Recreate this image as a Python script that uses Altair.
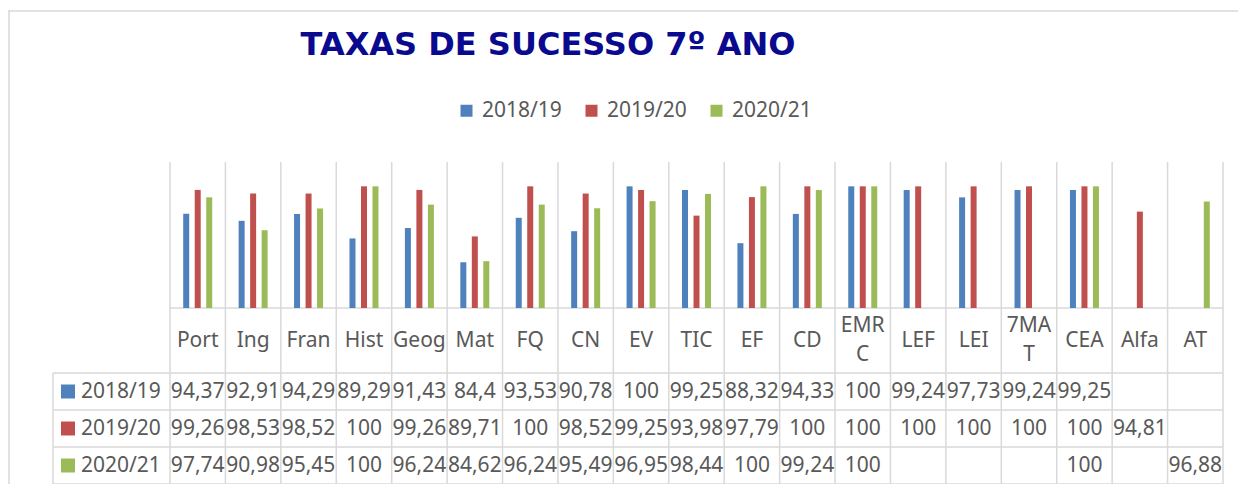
import altair as alt
import pandas as pd

# ---------------- data ----------------
categories = ["Port", "Ing", "Fran", "Hist", "Geog", "Mat", "FQ", "CN", "EV", "TIC",
              "EF", "CD", "EMRC", "LEF", "LEI", "7MAT", "CEA", "Alfa", "AT"]
header_labels = ["Port", "Ing", "Fran", "Hist", "Geog", "Mat", "FQ", "CN", "EV", "TIC",
                 "EF", "CD", "EMR\nC", "LEF", "LEI", "7MA\nT", "CEA", "Alfa", "AT"]
series = ["2018/19", "2019/20", "2020/21"]
v_2018_19 = [94.37, 92.91, 94.29, 89.29, 91.43, 84.4, 93.53, 90.78, 100, 99.25,
             88.32, 94.33, 100, 99.24, 97.73, 99.24, 99.25, None, None]
v_2019_20 = [99.26, 98.53, 98.52, 100, 99.26, 89.71, 100, 98.52, 99.25, 93.98,
             97.79, 100, 100, 100, 100, 100, 100, 94.81, None]
v_2020_21 = [97.74, 90.98, 95.45, 100, 96.24, 84.62, 96.24, 95.49, 96.95, 98.44,
             100, 99.24, 100, None, None, None, 100, None, 96.88]
colors = ["#4F81BD", "#C0504D", "#9BBB59"]
title_text = "TAXAS DE SUCESSO 7º ANO"


def fmt(v):
    s = f"{v:.2f}".rstrip("0").rstrip(".")
    return s.replace(".", ",")


rows = []
for s, vals in zip(series, [v_2018_19, v_2019_20, v_2020_21]):
    for c, v in zip(categories, vals):
        if v is not None:
            rows.append({"cat": c, "series": s, "value": v, "label": fmt(v)})
df = pd.DataFrame(rows)
df_cats = pd.DataFrame({"cat": categories, "hdr": header_labels})
df_hdr1 = df_cats[~df_cats["hdr"].str.contains("\n")]
df_hdr2 = df_cats[df_cats["hdr"].str.contains("\n")]
df_series = pd.DataFrame({"series": series})
one = pd.DataFrame({"k": [0]})

# ---------------- layout constants (pixels) ----------------
W, H = 1053, 322
BASE = 146          # bar baseline inside plot
ROW_TOP = 211       # top of value rows
LEFT_COL = -117     # left edge of the row-label column
GRID = "#D9D9D9"
TXT = "#595959"
FONT = "Noto Sans"
BAND = W / len(categories)
LINE_H = 29

x_scale = alt.Scale(domain=categories, paddingInner=0, paddingOuter=0)
x_enc = alt.X("cat:N", sort=categories, scale=x_scale, axis=None)
row_scale = alt.Scale(domain=series, type="band", range=[ROW_TOP, H],
                      paddingInner=0, paddingOuter=0)
color_enc = alt.Color(
    "series:N",
    scale=alt.Scale(domain=series, range=colors),
    legend=alt.Legend(orient="none", legendX=286, legendY=-62, direction="horizontal",
                      title=None, symbolType="square", symbolSize=144,
                      symbolStrokeWidth=0, labelFontSize=21, labelFont=FONT,
                      labelColor=TXT, labelOffset=5, columnPadding=19, padding=0),
)

bars = alt.Chart(df).mark_bar().encode(
    x=x_enc,
    xOffset=alt.XOffset("series:N", sort=series,
                        scale=alt.Scale(domain=series, paddingInner=0.478, paddingOuter=0,
                                        range=[BAND / 2 - 14.5, BAND / 2 + 14.5])),
    y=alt.Y("value:Q", scale=alt.Scale(domain=[75, 105], range=[BASE, 0]), axis=None),
    y2=alt.datum(75),
    color=color_enc,
)

col_lines = alt.Chart(df_cats).mark_rule(color=GRID, strokeWidth=1.5).encode(
    x=alt.X("cat:N", sort=categories, scale=x_scale, axis=None, bandPosition=0),
    y=alt.value(0), y2=alt.value(H),
)


def hrule(y, x0, x1):
    return alt.Chart(one).mark_rule(color=GRID, strokeWidth=1.5).encode(
        x=alt.value(x0), x2=alt.value(x1), y=alt.value(y))


def vrule(x, y0, y1, color=GRID):
    return alt.Chart(one).mark_rule(color=color, strokeWidth=1.5).encode(
        x=alt.value(x), y=alt.value(y0), y2=alt.value(y1))


row_h = (H - ROW_TOP) / 3
grid_layers = [
    vrule(W, 0, H),
    vrule(LEFT_COL, ROW_TOP, H),
    hrule(BASE, 0, W),
    hrule(ROW_TOP, LEFT_COL, W),
    hrule(ROW_TOP + row_h, LEFT_COL, W),
    hrule(ROW_TOP + 2 * row_h, LEFT_COL, W),
    hrule(H, LEFT_COL, W),
    # outer chart border
    vrule(-161, -151, H, "#D9D9D9"),
    hrule(-151, -162, 1080),
]

HDR_MID = (BASE + ROW_TOP) / 2
headers1 = alt.Chart(df_hdr1).mark_text(
    font=FONT, fontSize=21, color=TXT, baseline="middle"
).encode(x=x_enc, y=alt.value(HDR_MID), text="hdr:N")

headers2 = alt.Chart(df_hdr2).mark_text(
    font=FONT, fontSize=21, color=TXT, baseline="middle", lineBreak="\n", lineHeight=LINE_H
).encode(x=x_enc, y=alt.value(HDR_MID - LINE_H / 2), text="hdr:N")

values = alt.Chart(df).mark_text(
    font=FONT, fontSize=21, color=TXT, baseline="middle"
).encode(
    x=x_enc,
    y=alt.Y("series:N", sort=series, scale=row_scale, axis=None),
    text="label:N",
)

row_labels = alt.Chart(df_series).mark_text(
    font=FONT, fontSize=21, color=TXT, baseline="middle", align="left"
).encode(
    x=alt.value(LEFT_COL + 28),
    y=alt.Y("series:N", sort=series, scale=row_scale, axis=None),
    text="series:N",
)

row_squares = alt.Chart(df_series).mark_square(size=196, opacity=1).encode(
    x=alt.value(LEFT_COL + 15),
    y=alt.Y("series:N", sort=series, scale=row_scale, axis=None),
    color=color_enc,
)

title = alt.Chart(one).mark_text(
    text=title_text, font="DejaVu Sans", fontWeight="bold", fontSize=32,
    color="#0a0a8f", align="center", baseline="alphabetic"
).encode(x=alt.value(378), y=alt.value(-107))

chart = alt.layer(
    col_lines, *grid_layers, bars, headers1, headers2, values, row_squares, row_labels, title
).resolve_scale(y="independent").properties(
    width=W, height=H,
    autosize=alt.AutoSizeParams(type="none"),
    padding={"left": 162, "top": 154, "right": 15, "bottom": 0},
).configure_view(stroke=None)

chart.save("out.html", embed_options={"renderer": "svg", "actions": False})
